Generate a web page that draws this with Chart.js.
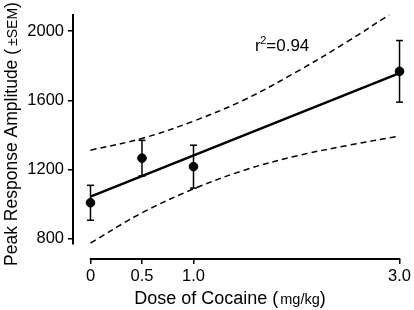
<!DOCTYPE html>
<html>
<head>
<meta charset="utf-8">
<script src="https://cdn.jsdelivr.net/npm/chart.js@4.4.1/dist/chart.umd.min.js"></script>
<style>
  html, body { margin: 0; padding: 0; background: #fff; }
  #wrap { width: 414px; height: 310px; }
</style>
</head>
<body>
<div id="wrap"><canvas id="c" width="414" height="310"></canvas></div>
<script>
// ---- data ----
const doses = [0, 0.5, 1.0, 3.0];
const meanAmp = [1008, 1266, 1217, 1768];
const semAmp = [101, 103, 124, 178];

const fitX = [0, 3.0];
const fitY = [1044, 1758];

const upperX = [0, 0.5, 1.0, 1.5, 2.0, 2.5, 2.9];
const upperY = [1312, 1380, 1480, 1605, 1765, 1942, 2095];
const lowerX = [0, 0.5, 1.0, 1.5, 2.0, 2.5, 3.0];
const lowerY = [775, 950, 1088, 1198, 1279, 1340, 1394];

const xTicks = [0, 0.5, 1.0, 3.0];
const xTickLabels = ['0', '0.5', '1.0', '3.0'];
const yTicks = [800, 1200, 1600, 2000];

const yAxisRange = [767, 2100];   // extent of the drawn y axis line
const xAxisRange = [0, 3.0];      // extent of the drawn x axis line
const r2Text = '0.94';

const FONT = "'Liberation Sans', Arial, Helvetica, sans-serif";

const toPts = (xs, ys) => xs.map((x, i) => ({ x: x, y: ys[i] }));

const datasets = [];
// error bars
doses.forEach((d, i) => {
  datasets.push({
    type: 'line',
    data: [{ x: d, y: meanAmp[i] - semAmp[i] }, { x: d, y: meanAmp[i] + semAmp[i] }],
    borderColor: '#000', borderWidth: 1.5,
    pointStyle: 'line', pointRadius: 3.5, pointBorderWidth: 1.5,
    pointBorderColor: '#000', pointHoverRadius: 3.5,
    showLine: true, clip: false, order: 2
  });
});
// regression line
datasets.push({
  type: 'line', data: toPts(fitX, fitY),
  borderColor: '#000', borderWidth: 2.5, pointRadius: 0, showLine: true, order: 3
});
// confidence bands
datasets.push({
  type: 'line', data: toPts(upperX, upperY),
  borderColor: '#000', borderWidth: 1.5, borderDash: [6, 4], pointRadius: 0,
  showLine: true, tension: 0.35, order: 4
});
datasets.push({
  type: 'line', data: toPts(lowerX, lowerY),
  borderColor: '#000', borderWidth: 1.5, borderDash: [6, 4], pointRadius: 0,
  showLine: true, tension: 0.35, order: 4
});
// means
datasets.push({
  type: 'scatter', data: toPts(doses, meanAmp),
  backgroundColor: '#000', borderColor: '#000', pointRadius: 4.3, pointHoverRadius: 4.3,
  clip: false, order: 1
});

const customAxes = {
  id: 'customAxes',
  afterDraw(chart) {
    const ctx = chart.ctx;
    const xs = chart.scales.x, ys = chart.scales.y;
    ctx.save();
    ctx.strokeStyle = '#000';
    ctx.lineWidth = 2;
    ctx.lineCap = 'butt';
    // y axis line
    const axX = chart.chartArea.left - 1;
    ctx.beginPath();
    ctx.moveTo(axX, ys.getPixelForValue(yAxisRange[1]));
    ctx.lineTo(axX, ys.getPixelForValue(yAxisRange[0]));
    ctx.stroke();
    // x axis line
    const axY = chart.chartArea.bottom;
    ctx.beginPath();
    ctx.moveTo(xs.getPixelForValue(xAxisRange[0]) - 0.75, axY);
    ctx.lineTo(xs.getPixelForValue(xAxisRange[1]) + 0.75, axY);
    ctx.stroke();

    ctx.fillStyle = '#000';
    ctx.textBaseline = 'alphabetic';
    ctx.textAlign = 'left';
    // y title (mixed sizes)
    const yParts = [
      { t: 'Peak Response Amplitude (', f: '17.5px ' + FONT, gap: 0 },
      { t: '\u00B1SEM', f: '14px ' + FONT, gap: 3 },
      { t: ')', f: '17.5px ' + FONT, gap: 0 }
    ];
    let total = 0;
    yParts.forEach(p => { ctx.font = p.f; p.w = ctx.measureText(p.t).width; total += p.w + p.gap; });
    ctx.save();
    ctx.translate(17, 134);
    ctx.rotate(-Math.PI / 2);
    let cx = -total / 2;
    yParts.forEach(p => { cx += p.gap; ctx.font = p.f; ctx.fillText(p.t, cx, 0); cx += p.w; });
    ctx.restore();
    // x title
    const xParts = [
      { t: 'Dose of Cocaine (', f: '18px ' + FONT, gap: 0 },
      { t: 'mg/kg', f: '14.5px ' + FONT, gap: 2 },
      { t: ')', f: '18px ' + FONT, gap: 0 }
    ];
    total = 0;
    xParts.forEach(p => { ctx.font = p.f; p.w = ctx.measureText(p.t).width; total += p.w + p.gap; });
    cx = 230 - total / 2;
    xParts.forEach(p => { cx += p.gap; ctx.font = p.f; ctx.fillText(p.t, cx, 304); cx += p.w; });
    // r^2 annotation
    ctx.font = '17px ' + FONT;
    let ax = 255, ay = 51;
    ctx.fillText('r', ax, ay);
    ax += ctx.measureText('r').width;
    ctx.font = '11px ' + FONT;
    ctx.fillText('2', ax - 0.5, ay - 7);
    ax += ctx.measureText('2').width - 0.5;
    ctx.font = '17px ' + FONT;
    ctx.fillText('=' + r2Text, ax, ay);
    ctx.restore();
  }
};

new Chart(document.getElementById('c'), {
  data: { datasets: datasets },
  options: {
    responsive: false,
    animation: false,
    events: [],
    layout: { padding: { top: 13, right: 12, left: 0, bottom: 0 } },
    plugins: { legend: { display: false }, tooltip: { enabled: false } },
    scales: {
      x: {
        type: 'linear', position: 'bottom',
        min: -0.16, max: 3.0,
        afterFit: s => { s.height = 51; },
        afterBuildTicks: s => { s.ticks = xTicks.map(v => ({ value: v })); },
        border: { display: false },
        grid: { drawOnChartArea: false, drawTicks: true, tickLength: 5, color: '#000', lineWidth: 1.5 },
        ticks: {
          color: '#000', font: { family: FONT, size: 16.5 }, padding: 3,
          maxRotation: 0, autoSkip: false,
          callback: (v) => { const i = xTicks.indexOf(v); return i >= 0 ? xTickLabels[i] : ''; }
        }
      },
      y: {
        type: 'linear', position: 'left',
        min: 683, max: 2100,
        afterFit: s => { s.width = 74; },
        afterBuildTicks: s => { s.ticks = yTicks.map(v => ({ value: v })); },
        border: { display: false },
        grid: { drawOnChartArea: false, drawTicks: true, tickLength: 6, color: '#000', lineWidth: 1.5 },
        ticks: {
          color: '#000', font: { family: FONT, size: 16.5 }, padding: 4, autoSkip: false,
          callback: (v) => String(v)
        }
      }
    }
  },
  plugins: [customAxes]
});
</script>
</body>
</html>
